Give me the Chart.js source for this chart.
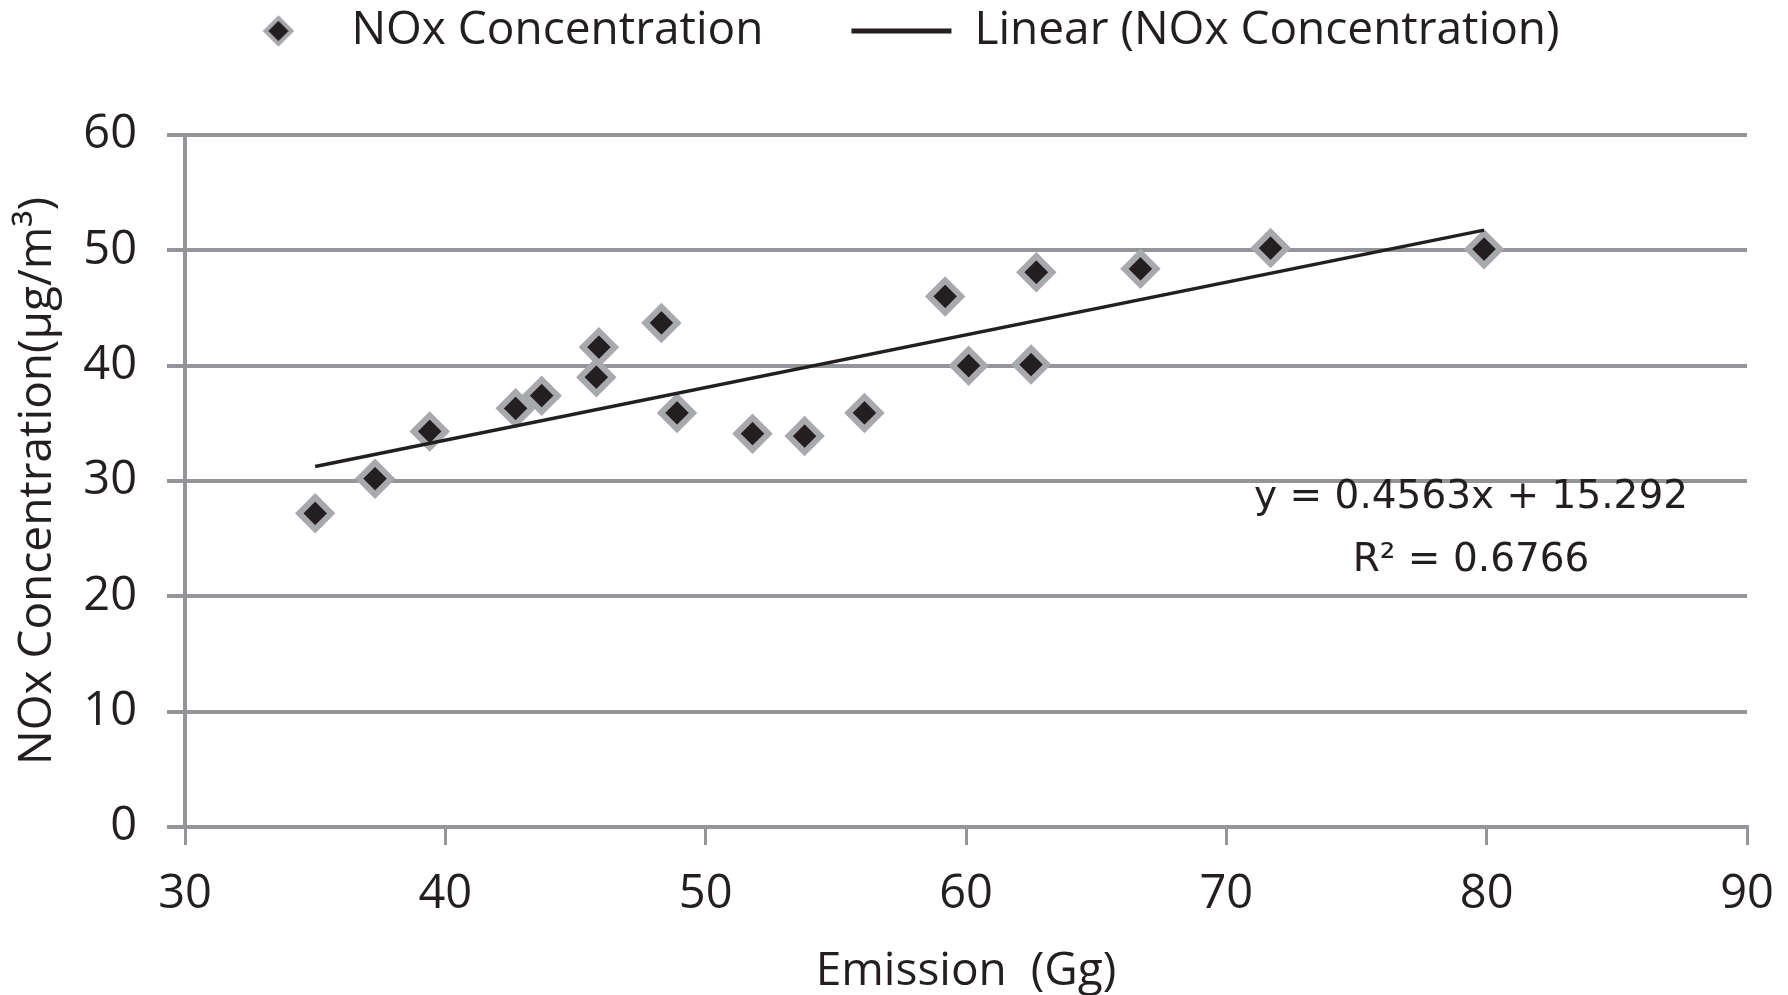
<!DOCTYPE html>
<html><head><meta charset="utf-8">
<script src="https://cdn.jsdelivr.net/npm/chart.js@4.4.1/dist/chart.umd.min.js"></script>
<style>html,body{margin:0;padding:0;background:#fff;overflow:hidden}canvas{display:block}</style>
</head><body>
<canvas id="c" width="1788" height="995"></canvas>
<script>
// ---- data ----
const emission = [35.0, 37.3, 39.4, 42.7, 43.7, 45.8, 45.9, 48.3, 48.9, 51.8, 53.8, 56.1, 59.2, 60.1, 62.5, 62.7, 66.7, 71.7, 79.9];
const concentration = [27.2, 30.2, 34.3, 36.3, 37.4, 39.0, 41.6, 43.7, 35.9, 34.1, 33.9, 35.9, 46.0, 40.0, 40.1, 48.1, 48.4, 50.2, 50.1];
const xTicks = [30, 40, 50, 60, 70, 80, 90];
const yTicks = [0, 10, 20, 30, 40, 50, 60];
const seriesName = 'NOx Concentration';
const trendName = 'Linear (NOx Concentration)';
const trendSlope = 0.4563;
const trendIntercept = 15.292;
const trendLabels = ['y = 0.4563x + 15.292', 'R\u00B2 = 0.6766'];
const xTitle = 'Emission  (Gg)';
const yTitle = 'NOx Concentration(\u00B5g/m\u00B3)';

// ---- styles ----
const INK = '#231f20';
const GRID = '#939598';
const MARK_BORDER = '#a7a9ac';

const points = emission.map((x, i) => ({x, y: concentration[i]}));
const xMin = Math.min(...emission), xMax = Math.max(...emission);
const trendPoints = [xMin, xMax].map(x => ({x, y: trendSlope * x + trendIntercept}));

// legend diamond icon
const icon = document.createElement('canvas');
icon.width = 36; icon.height = 36;
(function(){
  const g = icon.getContext('2d');
  const c = 18, r = 13;
  g.beginPath();
  g.moveTo(c, c - r); g.lineTo(c + r, c); g.lineTo(c, c + r); g.lineTo(c - r, c); g.closePath();
  g.fillStyle = INK; g.fill();
  g.lineWidth = 4; g.strokeStyle = MARK_BORDER; g.stroke();
})();

const equationPlugin = {
  id: 'equation',
  afterDatasetsDraw(chart) {
    const {ctx, scales: {x, y}} = chart;
    ctx.save();
    ctx.font = '39px "DejaVu Sans", Verdana, sans-serif';
    ctx.fillStyle = INK;
    ctx.textAlign = 'center';
    ctx.textBaseline = 'middle';
    const cx = x.getPixelForValue(79.4);
    ctx.fillText(trendLabels[0], cx, y.getPixelForValue(28.5));
    ctx.fillText(trendLabels[1], cx, y.getPixelForValue(23.1));
    ctx.restore();
  }
};

new Chart(document.getElementById('c'), {
  data: {
    datasets: [
      {
        type: 'scatter',
        label: seriesName,
        data: points,
        pointStyle: 'rectRot',
        pointRadius: 16,
        pointHoverRadius: 16,
        backgroundColor: INK,
        borderColor: MARK_BORDER,
        borderWidth: 6,
        order: 1
      },
      {
        type: 'line',
        label: trendName,
        data: trendPoints,
        borderColor: INK,
        backgroundColor: INK,
        borderWidth: 3.5,
        pointRadius: 0,
        pointStyle: 'line',
        fill: false,
        order: 0
      }
    ]
  },
  options: {
    responsive: false,
    animation: false,
    devicePixelRatio: 1,
    layout: {padding: {top: -80, left: 0, right: 0, bottom: 0}},
    plugins: {
      tooltip: {enabled: false},
      title: {
        display: true, text: '', position: 'top', weight: 500,
        font: {size: 10, lineHeight: 1}, padding: {top: 30, bottom: 31}
      },
      legend: {
        position: 'top',
        labels: {
          usePointStyle: true,
          pointStyleWidth: 100,
          padding: 88,
          color: INK,
          font: {family: '"Open Sans", sans-serif', size: 46},
          sort: (a, b) => a.datasetIndex - b.datasetIndex,
          generateLabels(chart) {
            const items = Chart.defaults.plugins.legend.labels.generateLabels(chart);
            items.forEach(it => {
              if (it.datasetIndex === 0) {
                it.pointStyle = icon;
              } else {
                it.pointStyle = 'line';
                it.lineWidth = 5;
                it.strokeStyle = INK;
              }
            });
            return items;
          }
        }
      }
    },
    scales: {
      x: {
        type: 'linear',
        min: xTicks[0],
        max: xTicks[xTicks.length - 1],
        afterBuildTicks: s => { s.ticks = xTicks.map(v => ({value: v})); },
        afterFit: s => { s.height = 168; s.paddingRight = 41; },
        grid: {drawOnChartArea: false, drawTicks: true, tickLength: 18, color: GRID, lineWidth: 3},
        border: {display: true, color: GRID, width: 4},
        ticks: {color: INK, padding: 21, font: {family: '"Open Sans", sans-serif', size: 47}, maxRotation: 0},
        title: {display: true, text: xTitle, color: INK, font: {family: '"Open Sans", sans-serif', size: 46, lineHeight: 1}, padding: {top: 0, bottom: 0}}
      },
      y: {
        type: 'linear',
        min: yTicks[0],
        max: yTicks[yTicks.length - 1],
        afterBuildTicks: s => { s.ticks = yTicks.map(v => ({value: v})); },
        afterFit: s => { s.width = 185; },
        grid: {drawOnChartArea: true, drawTicks: true, tickLength: 18, color: GRID, lineWidth: 4},
        border: {display: true, color: GRID, width: 4},
        ticks: {color: INK, padding: 30, font: {family: '"Open Sans", sans-serif', size: 47}},
        title: {display: true, text: yTitle, color: INK, font: {family: '"Open Sans", sans-serif', size: 46, lineHeight: 1}, padding: {top: 15, bottom: 0}}
      }
    }
  },
  plugins: [equationPlugin]
});
</script>
</body></html>
